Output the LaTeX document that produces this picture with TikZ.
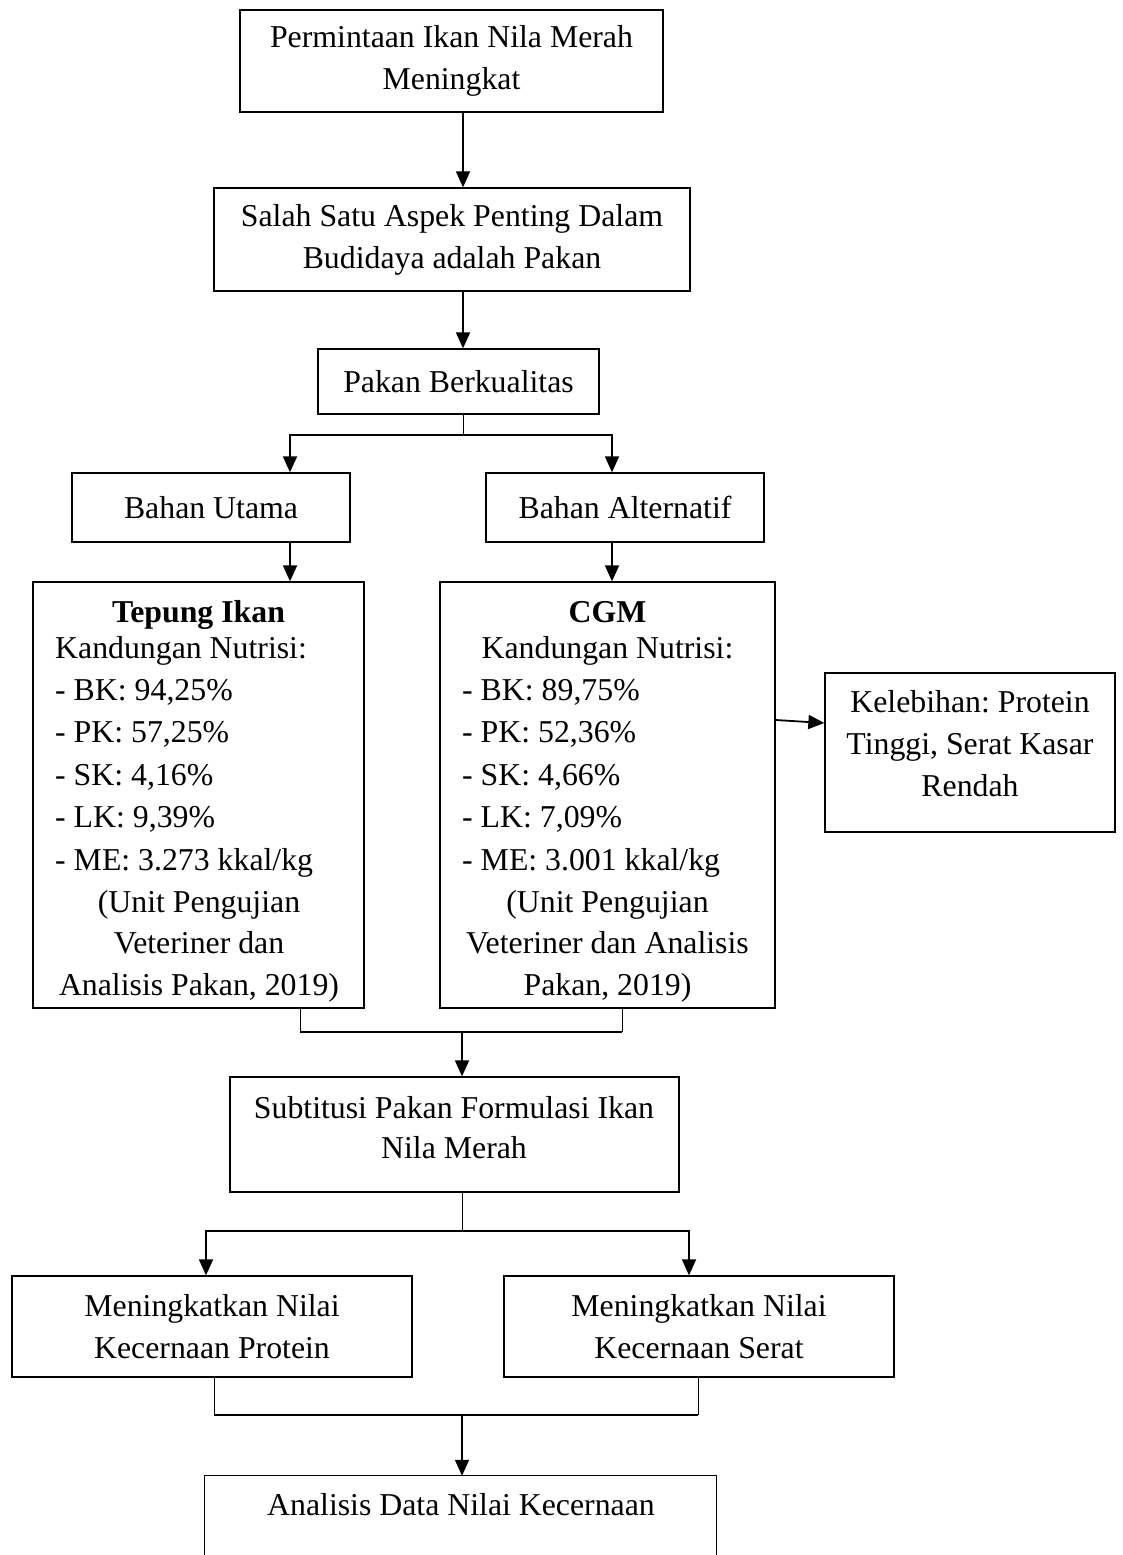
\documentclass[tikz,border=0pt]{standalone}
\usepackage{fontspec}
\setmainfont{Liberation Serif}
\usetikzlibrary{arrows.meta}
\newcommand\fsz{\fontsize{31.8}{42}\selectfont\frenchspacing}
\begin{document}
\frenchspacing
\begin{tikzpicture}[x=1pt,y=-1pt,
 box/.style={draw, line width=1.3pt, inner sep=0pt, font=\fsz, align=center},
 txt/.style={inner sep=0pt, font=\fsz},
 arr/.style={line width=1.8pt, -{Triangle[length=16pt,width=14pt]}},
 conn/.style={line width=1.5pt},
 thinl/.style={line width=1pt}]
\fill[white] (0,0) rectangle (1122,1555);
\useasboundingbox (0,0) rectangle (1122,1555);

% boxes
\node[box, minimum width=423pt, minimum height=102pt] (b1) at (451.5,61) {Permintaan Ikan Nila Merah\\Meningkat};
\node[box, minimum width=476pt, minimum height=103pt] (b2) at (452,239.5) {Salah Satu Aspek Penting Dalam\\Budidaya adalah Pakan};
\node[box, minimum width=281pt, minimum height=65pt] (b3) at (458.5,381.5) {Pakan Berkualitas};
\node[box, minimum width=278pt, minimum height=69pt] (b4) at (211,507.5) {Bahan Utama};
\node[box, minimum width=278pt, minimum height=69pt] (b5) at (625,507.5) {Bahan Alternatif};
\node[box, minimum width=331pt, minimum height=426pt] (b6) at (198.5,795) {};
\node[box, minimum width=335pt, minimum height=426pt] (b7) at (607.5,795) {};
\node[box, minimum width=290pt, minimum height=159pt] (b8) at (970,752.5) {};
\node[txt, align=center] (t8) at (970,744) {Kelebihan: Protein\\Tinggi, Serat Kasar\\Rendah};
\node[box, minimum width=449pt, minimum height=115pt] (b9) at (454.5,1134.5) {};
\node[txt, anchor=base] (t9a) at (454,1118) {Subtitusi Pakan Formulasi Ikan};
\node[txt, anchor=base] (t9b) at (454,1158) {Nila Merah};
\node[box, minimum width=400pt, minimum height=101pt] (b10) at (212,1326.5) {Meningkatkan Nilai\\Kecernaan Protein};
\node[box, minimum width=390pt, minimum height=101pt] (b11) at (699,1326.5) {Meningkatkan Nilai\\Kecernaan Serat};
\node[inner sep=0pt, minimum width=511pt, minimum height=158pt] (b12) at (460.5,1555) {};
\draw[line width=1.3pt] (b12.west) -- (b12.north west) -- (b12.north east) -- (b12.east);
\node[txt, anchor=base] (t12) at (461,1515) {Analisis Data Nilai Kecernaan};

% Tepung Ikan text
\node[txt, anchor=base] (tp0) at (198.5,622) {\bfseries Tepung Ikan};
\node[txt, anchor=base west] (tp1) at (55,658) {Kandungan Nutrisi:};
\node[txt, anchor=base west] (tp2) at (55,700) {- BK: 94,25\%};
\node[txt, anchor=base west] (tp3) at (55,742) {- PK: 57,25\%};
\node[txt, anchor=base west] (tp4) at (55,785) {- SK: 4,16\%};
\node[txt, anchor=base west] (tp5) at (55,827) {- LK: 9,39\%};
\node[txt, anchor=base west] (tp6) at (55,870) {- ME: 3.273 kkal/kg};
\node[txt, anchor=base] (tp7) at (199,912) {(Unit Pengujian};
\node[txt, anchor=base] (tp8) at (199,953) {Veteriner dan};
\node[txt, anchor=base] (tp9) at (199,995) {Analisis Pakan, 2019)};

% CGM text
\node[txt, anchor=base] (cg0) at (607.5,622) {\bfseries CGM};
\node[txt, anchor=base] (cg1) at (607.5,658) {Kandungan Nutrisi:};
\node[txt, anchor=base west] (cg2) at (462,700) {- BK: 89,75\%};
\node[txt, anchor=base west] (cg3) at (462,742) {- PK: 52,36\%};
\node[txt, anchor=base west] (cg4) at (462,785) {- SK: 4,66\%};
\node[txt, anchor=base west] (cg5) at (462,827) {- LK: 7,09\%};
\node[txt, anchor=base west] (cg6) at (462,870) {- ME: 3.001 kkal/kg};
\node[txt, anchor=base] (cg7) at (607.5,912) {(Unit Pengujian};
\node[txt, anchor=base] (cg8) at (607.5,953) {Veteriner dan Analisis};
\node[txt, anchor=base] (cg9) at (607.5,995) {Pakan, 2019)};

% connectors
\coordinate (cx) at (463,0);
\draw[arr] (b1.south -| cx) -- (b2.north -| cx);
\draw[arr] (b2.south -| cx) -- (b3.north -| cx);
\coordinate (j1) at (463,435);
\coordinate (xl1) at (290,0);
\coordinate (xr1) at (612,0);
\draw[thinl] (b3.south -| cx) -- (j1);
\draw[arr] (j1) -| (b4.north -| xl1);
\draw[arr] (j1) -| (b5.north -| xr1);
\draw[arr] (b4.south -| xl1) -- (b6.north -| xl1);
\draw[arr] (b5.south -| xr1) -- (b7.north -| xr1);
\coordinate (ka) at (0,720);
\coordinate (kb) at (0,723);
\draw[arr] (b7.east |- ka) -- (b8.west |- kb);

\coordinate (xa) at (300,0);
\coordinate (xb) at (622,0);
\coordinate (j2y) at (0,1032);
\coordinate (cx2) at (462,0);
\draw[thinl] (b6.south -| xa) -- (xa |- j2y);
\draw[thinl] (b7.south -| xb) -- (xb |- j2y);
\draw[conn] (xa |- j2y) -- (xb |- j2y);
\draw[arr] (cx2 |- j2y) -- (b9.north -| cx2);

\coordinate (j3y) at (0,1231);
\coordinate (xc) at (206,0);
\coordinate (xd) at (689,0);
\draw[thinl] (b9.south -| cx2) -- (cx2 |- j3y);
\draw[arr] (cx2 |- j3y) -| (b10.north -| xc);
\draw[arr] (cx2 |- j3y) -| (b11.north -| xd);

\coordinate (j4y) at (0,1415);
\coordinate (xe) at (214,0);
\coordinate (xf) at (698,0);
\draw[thinl] (b10.south -| xe) -- (xe |- j4y);
\draw[thinl] (b11.south -| xf) -- (xf |- j4y);
\draw[conn] (xe |- j4y) -- (xf |- j4y);
\draw[arr] (cx2 |- j4y) -- (b12.north -| cx2);
\end{tikzpicture}
\end{document}
